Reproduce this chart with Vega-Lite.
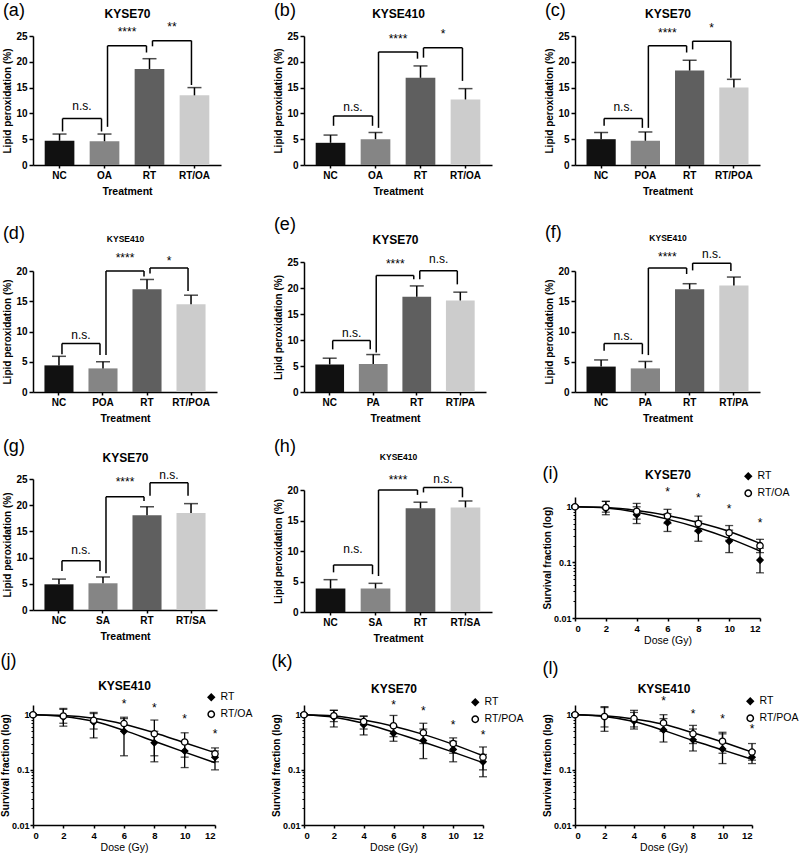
{
"$schema": "https://vega.github.io/schema/vega-lite/v6.json",
"background": "white",
"padding": {"left": 0, "top": 2, "right": 0, "bottom": 0},
"datasets": {
"bars": [
{"p":"a","cat":"NC","v":4.7,"hi":6.0},{"p":"a","cat":"OA","v":4.6,"hi":6.0},{"p":"a","cat":"RT","v":18.6,"hi":20.6},{"p":"a","cat":"RT/OA","v":13.5,"hi":15.0},
{"p":"b","cat":"NC","v":4.3,"hi":5.8},{"p":"b","cat":"OA","v":5.0,"hi":6.3},{"p":"b","cat":"RT","v":16.9,"hi":19.2},{"p":"b","cat":"RT/OA","v":12.7,"hi":14.8},
{"p":"c","cat":"NC","v":5.0,"hi":6.3},{"p":"c","cat":"POA","v":4.7,"hi":6.4},{"p":"c","cat":"RT","v":18.3,"hi":20.3},{"p":"c","cat":"RT/POA","v":15.0,"hi":16.6},
{"p":"d","cat":"NC","v":4.4,"hi":5.9},{"p":"d","cat":"POA","v":3.9,"hi":5.0},{"p":"d","cat":"RT","v":17.0,"hi":18.6},{"p":"d","cat":"RT/POA","v":14.5,"hi":16.0},
{"p":"e","cat":"NC","v":5.3,"hi":6.5},{"p":"e","cat":"PA","v":5.4,"hi":7.2},{"p":"e","cat":"RT","v":18.3,"hi":20.4},{"p":"e","cat":"RT/PA","v":17.6,"hi":19.2},
{"p":"f","cat":"NC","v":4.2,"hi":5.3},{"p":"f","cat":"PA","v":3.9,"hi":5.05},{"p":"f","cat":"RT","v":17.0,"hi":17.9},{"p":"f","cat":"RT/PA","v":17.6,"hi":19.0},
{"p":"g","cat":"NC","v":4.9,"hi":5.9},{"p":"g","cat":"SA","v":5.1,"hi":6.3},{"p":"g","cat":"RT","v":18.1,"hi":19.7},{"p":"g","cat":"RT/SA","v":18.5,"hi":20.3},
{"p":"h","cat":"NC","v":3.85,"hi":5.3},{"p":"h","cat":"SA","v":3.85,"hi":4.7},{"p":"h","cat":"RT","v":17.0,"hi":18.0},{"p":"h","cat":"RT/SA","v":17.15,"hi":18.2}
],
"br": [
{"p":"a","a":"NC","b":"OA","h":9.0,"la":6.5,"lb":6.5,"ty":11.4,"lab":"n.s."},{"p":"a","a":"OA","b":"RT","h":23.1,"la":7.4,"lb":21.8,"ty":25.7,"lab":"****"},{"p":"a","a":"RT","b":"RT/OA","h":24.1,"la":23.0,"lb":15.5,"ty":26.7,"lab":"**"},
{"p":"b","a":"NC","b":"OA","h":9.5,"la":7.6,"lb":7.6,"ty":11.3,"lab":"n.s."},{"p":"b","a":"OA","b":"RT","h":21.9,"la":7.2,"lb":20.6,"ty":24.4,"lab":"****"},{"p":"b","a":"RT","b":"RT/OA","h":22.7,"la":20.8,"lb":16.3,"ty":25.3,"lab":"*"},
{"p":"c","a":"NC","b":"POA","h":9.0,"la":7.6,"lb":7.2,"ty":11.3,"lab":"n.s."},{"p":"c","a":"POA","b":"RT","h":23.1,"la":7.2,"lb":21.8,"ty":25.6,"lab":"****"},{"p":"c","a":"RT","b":"RT/POA","h":24.0,"la":22.4,"lb":16.9,"ty":26.6,"lab":"*"},
{"p":"d","a":"NC","b":"POA","h":8.0,"la":6.25,"lb":6.1,"ty":9.5,"lab":"n.s."},{"p":"d","a":"POA","b":"RT","h":20.0,"la":6.1,"lb":19.1,"ty":22.1,"lab":"****"},{"p":"d","a":"RT","b":"RT/POA","h":20.5,"la":19.6,"lb":16.7,"ty":21.7,"lab":"*"},
{"p":"e","a":"NC","b":"PA","h":9.9,"la":8.2,"lb":8.2,"ty":11.4,"lab":"n.s."},{"p":"e","a":"PA","b":"RT","h":22.4,"la":7.6,"lb":21.7,"ty":24.6,"lab":"****"},{"p":"e","a":"RT","b":"RT/PA","h":23.3,"la":21.7,"lb":20.7,"ty":25.5,"lab":"n.s."},
{"p":"f","a":"NC","b":"PA","h":8.0,"la":6.8,"lb":6.25,"ty":9.3,"lab":"n.s."},{"p":"f","a":"PA","b":"RT","h":20.5,"la":6.1,"lb":19.5,"ty":22.3,"lab":"****"},{"p":"f","a":"RT","b":"RT/PA","h":21.3,"la":20.1,"lb":20.0,"ty":22.8,"lab":"n.s."},
{"p":"g","a":"NC","b":"SA","h":9.4,"la":7.45,"lb":7.45,"ty":11.4,"lab":"n.s."},{"p":"g","a":"SA","b":"RT","h":21.6,"la":7.0,"lb":20.8,"ty":24.5,"lab":"****"},{"p":"g","a":"RT","b":"RT/SA","h":24.3,"la":21.8,"lb":21.8,"ty":25.7,"lab":"n.s."},
{"p":"h","a":"NC","b":"SA","h":7.7,"la":6.5,"lb":6.2,"ty":10.3,"lab":"n.s."},{"p":"h","a":"SA","b":"RT","h":20.0,"la":5.9,"lb":19.2,"ty":21.6,"lab":"****"},{"p":"h","a":"RT","b":"RT/SA","h":20.4,"la":19.6,"lb":18.8,"ty":21.8,"lab":"n.s."}
],
"sv": [
{"p":"i","s":"RT","d":0,"m":1.0,"lo":0.96,"hi":1.04},{"p":"i","s":"RT","d":2,"m":0.93,"lo":0.72,"hi":1.25},{"p":"i","s":"RT","d":4,"m":0.72,"lo":0.5,"hi":1.0},{"p":"i","s":"RT","d":6,"m":0.52,"lo":0.36,"hi":0.75},{"p":"i","s":"RT","d":8,"m":0.37,"lo":0.24,"hi":0.55},{"p":"i","s":"RT","d":10,"m":0.24,"lo":0.15,"hi":0.38},{"p":"i","s":"RT","d":12,"m":0.11,"lo":0.065,"hi":0.18},
{"p":"i","s":"RT/OA","d":0,"m":1.0,"lo":0.96,"hi":1.04},{"p":"i","s":"RT/OA","d":2,"m":0.97,"lo":0.8,"hi":1.25},{"p":"i","s":"RT/OA","d":4,"m":0.83,"lo":0.6,"hi":1.15},{"p":"i","s":"RT/OA","d":6,"m":0.68,"lo":0.5,"hi":0.9},{"p":"i","s":"RT/OA","d":8,"m":0.5,"lo":0.36,"hi":0.68},{"p":"i","s":"RT/OA","d":10,"m":0.34,"lo":0.25,"hi":0.46},{"p":"i","s":"RT/OA","d":12,"m":0.2,"lo":0.15,"hi":0.26},
{"p":"j","s":"RT","d":0,"m":1.0,"lo":0.96,"hi":1.04},{"p":"j","s":"RT","d":2,"m":0.91,"lo":0.62,"hi":1.25},{"p":"j","s":"RT","d":4,"m":0.74,"lo":0.38,"hi":1.1},{"p":"j","s":"RT","d":6,"m":0.5,"lo":0.18,"hi":0.85},{"p":"j","s":"RT","d":8,"m":0.31,"lo":0.14,"hi":0.5},{"p":"j","s":"RT","d":10,"m":0.22,"lo":0.11,"hi":0.32},{"p":"j","s":"RT","d":12,"m":0.17,"lo":0.1,"hi":0.22},
{"p":"j","s":"RT/OA","d":0,"m":1.0,"lo":0.96,"hi":1.04},{"p":"j","s":"RT/OA","d":2,"m":0.95,"lo":0.7,"hi":1.3},{"p":"j","s":"RT/OA","d":4,"m":0.79,"lo":0.55,"hi":1.05},{"p":"j","s":"RT/OA","d":6,"m":0.69,"lo":0.5,"hi":0.9},{"p":"j","s":"RT/OA","d":8,"m":0.45,"lo":0.18,"hi":0.8},{"p":"j","s":"RT/OA","d":10,"m":0.32,"lo":0.17,"hi":0.47},{"p":"j","s":"RT/OA","d":12,"m":0.195,"lo":0.14,"hi":0.25},
{"p":"k","s":"RT","d":0,"m":1.0,"lo":0.96,"hi":1.04},{"p":"k","s":"RT","d":2,"m":0.91,"lo":0.6,"hi":1.2},{"p":"k","s":"RT","d":4,"m":0.66,"lo":0.43,"hi":0.93},{"p":"k","s":"RT","d":6,"m":0.46,"lo":0.33,"hi":0.62},{"p":"k","s":"RT","d":8,"m":0.34,"lo":0.16,"hi":0.55},{"p":"k","s":"RT","d":10,"m":0.235,"lo":0.14,"hi":0.33},{"p":"k","s":"RT","d":12,"m":0.14,"lo":0.075,"hi":0.19},
{"p":"k","s":"RT/POA","d":0,"m":1.0,"lo":0.96,"hi":1.04},{"p":"k","s":"RT/POA","d":2,"m":0.96,"lo":0.75,"hi":1.2},{"p":"k","s":"RT/POA","d":4,"m":0.75,"lo":0.55,"hi":0.95},{"p":"k","s":"RT/POA","d":6,"m":0.63,"lo":0.4,"hi":0.97},{"p":"k","s":"RT/POA","d":8,"m":0.47,"lo":0.3,"hi":0.7},{"p":"k","s":"RT/POA","d":10,"m":0.3,"lo":0.2,"hi":0.38},{"p":"k","s":"RT/POA","d":12,"m":0.17,"lo":0.1,"hi":0.26},
{"p":"l","s":"RT","d":0,"m":1.0,"lo":0.96,"hi":1.04},{"p":"l","s":"RT","d":2,"m":0.91,"lo":0.5,"hi":1.4},{"p":"l","s":"RT","d":4,"m":0.77,"lo":0.55,"hi":1.1},{"p":"l","s":"RT","d":6,"m":0.53,"lo":0.32,"hi":0.85},{"p":"l","s":"RT","d":8,"m":0.35,"lo":0.22,"hi":0.55},{"p":"l","s":"RT","d":10,"m":0.24,"lo":0.13,"hi":0.45},{"p":"l","s":"RT","d":12,"m":0.17,"lo":0.13,"hi":0.22},
{"p":"l","s":"RT/POA","d":0,"m":1.0,"lo":0.96,"hi":1.04},{"p":"l","s":"RT/POA","d":2,"m":0.93,"lo":0.6,"hi":1.35},{"p":"l","s":"RT/POA","d":4,"m":0.85,"lo":0.6,"hi":1.2},{"p":"l","s":"RT/POA","d":6,"m":0.71,"lo":0.5,"hi":1.0},{"p":"l","s":"RT/POA","d":8,"m":0.45,"lo":0.3,"hi":0.64},{"p":"l","s":"RT/POA","d":10,"m":0.33,"lo":0.2,"hi":0.48},{"p":"l","s":"RT/POA","d":12,"m":0.21,"lo":0.15,"hi":0.3}
],
"fit": [
{"p":"i","s":"RT","d":0,"f":1.0},{"p":"i","s":"RT","d":2,"f":0.95},{"p":"i","s":"RT","d":4,"f":0.8},{"p":"i","s":"RT","d":6,"f":0.6},{"p":"i","s":"RT","d":8,"f":0.42},{"p":"i","s":"RT","d":10,"f":0.27},{"p":"i","s":"RT","d":12,"f":0.16},
{"p":"i","s":"RT/OA","d":0,"f":1.0},{"p":"i","s":"RT/OA","d":2,"f":0.97},{"p":"i","s":"RT/OA","d":4,"f":0.86},{"p":"i","s":"RT/OA","d":6,"f":0.7},{"p":"i","s":"RT/OA","d":8,"f":0.52},{"p":"i","s":"RT/OA","d":10,"f":0.36},{"p":"i","s":"RT/OA","d":12,"f":0.22},
{"p":"j","s":"RT","d":0,"f":1.0},{"p":"j","s":"RT","d":2,"f":0.93},{"p":"j","s":"RT","d":4,"f":0.76},{"p":"j","s":"RT","d":6,"f":0.52},{"p":"j","s":"RT","d":8,"f":0.33},{"p":"j","s":"RT","d":10,"f":0.21},{"p":"j","s":"RT","d":12,"f":0.135},
{"p":"j","s":"RT/OA","d":0,"f":1.0},{"p":"j","s":"RT/OA","d":2,"f":0.97},{"p":"j","s":"RT/OA","d":4,"f":0.86},{"p":"j","s":"RT/OA","d":6,"f":0.67},{"p":"j","s":"RT/OA","d":8,"f":0.47},{"p":"j","s":"RT/OA","d":10,"f":0.31},{"p":"j","s":"RT/OA","d":12,"f":0.205},
{"p":"k","s":"RT","d":0,"f":1.0},{"p":"k","s":"RT","d":2,"f":0.9},{"p":"k","s":"RT","d":4,"f":0.7},{"p":"k","s":"RT","d":6,"f":0.48},{"p":"k","s":"RT","d":8,"f":0.32},{"p":"k","s":"RT","d":10,"f":0.21},{"p":"k","s":"RT","d":12,"f":0.135},
{"p":"k","s":"RT/POA","d":0,"f":1.0},{"p":"k","s":"RT/POA","d":2,"f":0.95},{"p":"k","s":"RT/POA","d":4,"f":0.8},{"p":"k","s":"RT/POA","d":6,"f":0.62},{"p":"k","s":"RT/POA","d":8,"f":0.44},{"p":"k","s":"RT/POA","d":10,"f":0.29},{"p":"k","s":"RT/POA","d":12,"f":0.18},
{"p":"l","s":"RT","d":0,"f":1.0},{"p":"l","s":"RT","d":2,"f":0.93},{"p":"l","s":"RT","d":4,"f":0.75},{"p":"l","s":"RT","d":6,"f":0.52},{"p":"l","s":"RT","d":8,"f":0.34},{"p":"l","s":"RT","d":10,"f":0.23},{"p":"l","s":"RT","d":12,"f":0.155},
{"p":"l","s":"RT/POA","d":0,"f":1.0},{"p":"l","s":"RT/POA","d":2,"f":0.96},{"p":"l","s":"RT/POA","d":4,"f":0.84},{"p":"l","s":"RT/POA","d":6,"f":0.67},{"p":"l","s":"RT/POA","d":8,"f":0.47},{"p":"l","s":"RT/POA","d":10,"f":0.32},{"p":"l","s":"RT/POA","d":12,"f":0.21}
],
"st": [
{"p":"i","d":6,"y":1.85},{"p":"i","d":8,"y":1.45},{"p":"i","d":10,"y":0.9},{"p":"i","d":12,"y":0.52},
{"p":"j","d":6,"y":1.58},{"p":"j","d":8,"y":1.34},{"p":"j","d":10,"y":0.82},{"p":"j","d":12,"y":0.45},
{"p":"k","d":6,"y":1.5},{"p":"k","d":8,"y":1.15},{"p":"k","d":10,"y":0.66},{"p":"k","d":12,"y":0.43},
{"p":"l","d":6,"y":1.75},{"p":"l","d":8,"y":1.04},{"p":"l","d":10,"y":0.82},{"p":"l","d":12,"y":0.54}
]
},
"config": {
"font": "Liberation Sans",
"view": {"stroke": null},
"axis": {"domainColor": "#000", "domainWidth": 1.5, "tickColor": "#000", "tickWidth": 1.5, "tickSize": 4, "labelColor": "#000", "titleColor": "#000", "labelFont": "Liberation Sans", "titleFont": "Liberation Sans", "labelFontWeight": "bold", "titleFontWeight": "bold", "labelFontSize": 10, "titleFontSize": 10.5, "grid": false, "labelPadding": 2, "titlePadding": 3},
"title": {"font": "Liberation Sans", "fontWeight": "normal", "fontSize": 18, "anchor": "start", "frame": "bounds", "color": "#000", "offset": 0},
"legend": {"labelFont": "Liberation Sans", "labelFontSize": 10.5, "labelColor": "#000"},
"text": {"font": "Liberation Sans", "color": "#000"}
},
"columns": 3,
"bounds": "flush",
"align": "each",
"spacing": {"row": 87, "column": 83},
"resolve": {"scale": {"x": "independent", "y": "independent", "color": "independent", "fill": "independent", "shape": "independent"}, "legend": {"fill": "independent", "shape": "independent"}},
"concat": [
{"title": {"text": "(a)", "dy": 17}, "width": 188, "height": 129, "resolve": {"axis": {"x": "independent", "y": "independent"}},
"layer": [
{"data": {"name": "bars"}, "transform": [{"filter": "datum.p=='a'"}], "mark": {"type": "bar"},
"encoding": {"x": {"field": "cat", "type": "nominal", "scale": {"domain": ["NC","OA","RT","RT/OA"], "paddingInner": 0.34, "paddingOuter": 0.26}, "axis": {"title": "Treatment", "labelAngle": 0, "tickSize": 3, "titlePadding": 6}},
"y": {"field": "v", "type": "quantitative", "scale": {"domain": [0,25], "nice": false}, "axis": {"values": [0,5,10,15,20,25], "title": "Lipid peroxidation (%)", "titleFontSize": 10}},
"color": {"field": "cat", "type": "nominal", "scale": {"domain": ["NC","OA","RT","RT/OA"], "range": ["#111111","#858585","#5f5f5f","#cccccc"]}, "legend": null}}},
{"data": {"name": "bars"}, "transform": [{"filter": "datum.p=='a'"}], "mark": {"type": "rule", "color": "#000", "strokeWidth": 1.5},
"encoding": {"x": {"field": "cat", "type": "nominal", "axis": {"orient": "top", "title": "KYSE70", "labels": false, "ticks": false, "domain": false, "titleFontSize": 12, "titlePadding": 16}}, "y": {"field": "v", "type": "quantitative", "axis": null}, "y2": {"field": "hi"}}},
{"data": {"name": "bars"}, "transform": [{"filter": "datum.p=='a'"}], "mark": {"type": "tick", "color": "#000", "thickness": 1.5, "size": 14},
"encoding": {"x": {"field": "cat", "type": "nominal", "axis": null}, "y": {"field": "hi", "type": "quantitative", "axis": null}}},
{"data": {"name": "br"}, "transform": [{"filter": "datum.p=='a'"}], "mark": {"type": "rule", "color": "#000", "strokeWidth": 1.5, "xOffset": 3, "x2Offset": -3},
"encoding": {"x": {"field": "a", "type": "nominal", "axis": null}, "x2": {"field": "b"}, "y": {"field": "h", "type": "quantitative", "axis": null}}},
{"data": {"name": "br"}, "transform": [{"filter": "datum.p=='a'"}], "mark": {"type": "rule", "color": "#000", "strokeWidth": 1.5, "xOffset": 3},
"encoding": {"x": {"field": "a", "type": "nominal", "axis": null}, "y": {"field": "la", "type": "quantitative", "axis": null}, "y2": {"field": "h"}}},
{"data": {"name": "br"}, "transform": [{"filter": "datum.p=='a'"}], "mark": {"type": "rule", "color": "#000", "strokeWidth": 1.5, "xOffset": -3},
"encoding": {"x": {"field": "b", "type": "nominal", "axis": null}, "y": {"field": "lb", "type": "quantitative", "axis": null}, "y2": {"field": "h"}}},
{"data": {"name": "br"}, "transform": [{"filter": "datum.p=='a'"}], "mark": {"type": "text", "dx": 22.5, "baseline": "middle", "fontSize": 12},
"encoding": {"x": {"field": "a", "type": "nominal", "axis": null}, "y": {"field": "ty", "type": "quantitative", "axis": null}, "text": {"field": "lab"}}}
]},
{"title": {"text": "(b)", "dy": 17}, "width": 188, "height": 129, "resolve": {"axis": {"x": "independent", "y": "independent"}},
"layer": [
{"data": {"name": "bars"}, "transform": [{"filter": "datum.p=='b'"}], "mark": {"type": "bar"},
"encoding": {"x": {"field": "cat", "type": "nominal", "scale": {"domain": ["NC","OA","RT","RT/OA"], "paddingInner": 0.34, "paddingOuter": 0.26}, "axis": {"title": "Treatment", "labelAngle": 0, "tickSize": 3, "titlePadding": 6}},
"y": {"field": "v", "type": "quantitative", "scale": {"domain": [0,25], "nice": false}, "axis": {"values": [0,5,10,15,20,25], "title": "Lipid peroxidation (%)", "titleFontSize": 10}},
"color": {"field": "cat", "type": "nominal", "scale": {"domain": ["NC","OA","RT","RT/OA"], "range": ["#111111","#858585","#5f5f5f","#cccccc"]}, "legend": null}}},
{"data": {"name": "bars"}, "transform": [{"filter": "datum.p=='b'"}], "mark": {"type": "rule", "color": "#000", "strokeWidth": 1.5},
"encoding": {"x": {"field": "cat", "type": "nominal", "axis": {"orient": "top", "title": "KYSE410", "labels": false, "ticks": false, "domain": false, "titleFontSize": 12, "titlePadding": 16}}, "y": {"field": "v", "type": "quantitative", "axis": null}, "y2": {"field": "hi"}}},
{"data": {"name": "bars"}, "transform": [{"filter": "datum.p=='b'"}], "mark": {"type": "tick", "color": "#000", "thickness": 1.5, "size": 14},
"encoding": {"x": {"field": "cat", "type": "nominal", "axis": null}, "y": {"field": "hi", "type": "quantitative", "axis": null}}},
{"data": {"name": "br"}, "transform": [{"filter": "datum.p=='b'"}], "mark": {"type": "rule", "color": "#000", "strokeWidth": 1.5, "xOffset": 3, "x2Offset": -3},
"encoding": {"x": {"field": "a", "type": "nominal", "axis": null}, "x2": {"field": "b"}, "y": {"field": "h", "type": "quantitative", "axis": null}}},
{"data": {"name": "br"}, "transform": [{"filter": "datum.p=='b'"}], "mark": {"type": "rule", "color": "#000", "strokeWidth": 1.5, "xOffset": 3},
"encoding": {"x": {"field": "a", "type": "nominal", "axis": null}, "y": {"field": "la", "type": "quantitative", "axis": null}, "y2": {"field": "h"}}},
{"data": {"name": "br"}, "transform": [{"filter": "datum.p=='b'"}], "mark": {"type": "rule", "color": "#000", "strokeWidth": 1.5, "xOffset": -3},
"encoding": {"x": {"field": "b", "type": "nominal", "axis": null}, "y": {"field": "lb", "type": "quantitative", "axis": null}, "y2": {"field": "h"}}},
{"data": {"name": "br"}, "transform": [{"filter": "datum.p=='b'"}], "mark": {"type": "text", "dx": 22.5, "baseline": "middle", "fontSize": 12},
"encoding": {"x": {"field": "a", "type": "nominal", "axis": null}, "y": {"field": "ty", "type": "quantitative", "axis": null}, "text": {"field": "lab"}}}
]},
{"title": {"text": "(c)", "dy": 17}, "width": 185, "height": 129, "resolve": {"axis": {"x": "independent", "y": "independent"}},
"layer": [
{"data": {"name": "bars"}, "transform": [{"filter": "datum.p=='c'"}], "mark": {"type": "bar"},
"encoding": {"x": {"field": "cat", "type": "nominal", "scale": {"domain": ["NC","POA","RT","RT/POA"], "paddingInner": 0.34, "paddingOuter": 0.26}, "axis": {"title": "Treatment", "labelAngle": 0, "tickSize": 3, "titlePadding": 6}},
"y": {"field": "v", "type": "quantitative", "scale": {"domain": [0,25], "nice": false}, "axis": {"values": [0,5,10,15,20,25], "title": "Lipid peroxidation (%)", "titleFontSize": 10}},
"color": {"field": "cat", "type": "nominal", "scale": {"domain": ["NC","POA","RT","RT/POA"], "range": ["#111111","#858585","#5f5f5f","#cccccc"]}, "legend": null}}},
{"data": {"name": "bars"}, "transform": [{"filter": "datum.p=='c'"}], "mark": {"type": "rule", "color": "#000", "strokeWidth": 1.5},
"encoding": {"x": {"field": "cat", "type": "nominal", "axis": {"orient": "top", "title": "KYSE70", "labels": false, "ticks": false, "domain": false, "titleFontSize": 12, "titlePadding": 16}}, "y": {"field": "v", "type": "quantitative", "axis": null}, "y2": {"field": "hi"}}},
{"data": {"name": "bars"}, "transform": [{"filter": "datum.p=='c'"}], "mark": {"type": "tick", "color": "#000", "thickness": 1.5, "size": 14},
"encoding": {"x": {"field": "cat", "type": "nominal", "axis": null}, "y": {"field": "hi", "type": "quantitative", "axis": null}}},
{"data": {"name": "br"}, "transform": [{"filter": "datum.p=='c'"}], "mark": {"type": "rule", "color": "#000", "strokeWidth": 1.5, "xOffset": 3, "x2Offset": -3},
"encoding": {"x": {"field": "a", "type": "nominal", "axis": null}, "x2": {"field": "b"}, "y": {"field": "h", "type": "quantitative", "axis": null}}},
{"data": {"name": "br"}, "transform": [{"filter": "datum.p=='c'"}], "mark": {"type": "rule", "color": "#000", "strokeWidth": 1.5, "xOffset": 3},
"encoding": {"x": {"field": "a", "type": "nominal", "axis": null}, "y": {"field": "la", "type": "quantitative", "axis": null}, "y2": {"field": "h"}}},
{"data": {"name": "br"}, "transform": [{"filter": "datum.p=='c'"}], "mark": {"type": "rule", "color": "#000", "strokeWidth": 1.5, "xOffset": -3},
"encoding": {"x": {"field": "b", "type": "nominal", "axis": null}, "y": {"field": "lb", "type": "quantitative", "axis": null}, "y2": {"field": "h"}}},
{"data": {"name": "br"}, "transform": [{"filter": "datum.p=='c'"}], "mark": {"type": "text", "dx": 22, "baseline": "middle", "fontSize": 12},
"encoding": {"x": {"field": "a", "type": "nominal", "axis": null}, "y": {"field": "ty", "type": "quantitative", "axis": null}, "text": {"field": "lab"}}}
]},
{"title": {"text": "(d)", "dy": 12.5}, "width": 184, "height": 140, "resolve": {"axis": {"x": "independent", "y": "independent"}},
"layer": [
{"data": {"name": "bars"}, "transform": [{"filter": "datum.p=='d'"}], "mark": {"type": "bar"},
"encoding": {"x": {"field": "cat", "type": "nominal", "scale": {"domain": ["NC","POA","RT","RT/POA"], "paddingInner": 0.34, "paddingOuter": 0.26}, "axis": {"title": "Treatment", "labelAngle": 0, "tickSize": 3, "titlePadding": 6}},
"y": {"field": "v", "type": "quantitative", "scale": {"domain": [0,20], "nice": false, "range": [140, 19]}, "axis": {"values": [0,5,10,15,20], "title": "Lipid peroxidation (%)", "titleFontSize": 10}},
"color": {"field": "cat", "type": "nominal", "scale": {"domain": ["NC","POA","RT","RT/POA"], "range": ["#111111","#858585","#5f5f5f","#cccccc"]}, "legend": null}}},
{"data": {"name": "bars"}, "transform": [{"filter": "datum.p=='d'"}], "mark": {"type": "rule", "color": "#000", "strokeWidth": 1.5},
"encoding": {"x": {"field": "cat", "type": "nominal", "axis": {"orient": "top", "title": "KYSE410", "labels": false, "ticks": false, "domain": false, "titleFontSize": 8.5, "titlePadding": 9}}, "y": {"field": "v", "type": "quantitative", "axis": null}, "y2": {"field": "hi"}}},
{"data": {"name": "bars"}, "transform": [{"filter": "datum.p=='d'"}], "mark": {"type": "tick", "color": "#000", "thickness": 1.5, "size": 14},
"encoding": {"x": {"field": "cat", "type": "nominal", "axis": null}, "y": {"field": "hi", "type": "quantitative", "axis": null}}},
{"data": {"name": "br"}, "transform": [{"filter": "datum.p=='d'"}], "mark": {"type": "rule", "color": "#000", "strokeWidth": 1.5, "xOffset": 3, "x2Offset": -3},
"encoding": {"x": {"field": "a", "type": "nominal", "axis": null}, "x2": {"field": "b"}, "y": {"field": "h", "type": "quantitative", "axis": null}}},
{"data": {"name": "br"}, "transform": [{"filter": "datum.p=='d'"}], "mark": {"type": "rule", "color": "#000", "strokeWidth": 1.5, "xOffset": 3},
"encoding": {"x": {"field": "a", "type": "nominal", "axis": null}, "y": {"field": "la", "type": "quantitative", "axis": null}, "y2": {"field": "h"}}},
{"data": {"name": "br"}, "transform": [{"filter": "datum.p=='d'"}], "mark": {"type": "rule", "color": "#000", "strokeWidth": 1.5, "xOffset": -3},
"encoding": {"x": {"field": "b", "type": "nominal", "axis": null}, "y": {"field": "lb", "type": "quantitative", "axis": null}, "y2": {"field": "h"}}},
{"data": {"name": "br"}, "transform": [{"filter": "datum.p=='d'"}], "mark": {"type": "text", "dx": 22, "baseline": "middle", "fontSize": 12},
"encoding": {"x": {"field": "a", "type": "nominal", "axis": null}, "y": {"field": "ty", "type": "quantitative", "axis": null}, "text": {"field": "lab"}}}
]},
{"title": {"text": "(e)", "dy": 5}, "width": 182, "height": 140, "resolve": {"axis": {"x": "independent", "y": "independent"}},
"layer": [
{"data": {"name": "bars"}, "transform": [{"filter": "datum.p=='e'"}], "mark": {"type": "bar"},
"encoding": {"x": {"field": "cat", "type": "nominal", "scale": {"domain": ["NC","PA","RT","RT/PA"], "paddingInner": 0.34, "paddingOuter": 0.26}, "axis": {"title": "Treatment", "labelAngle": 0, "tickSize": 3, "titlePadding": 6}},
"y": {"field": "v", "type": "quantitative", "scale": {"domain": [0,25], "nice": false, "range": [140, 10]}, "axis": {"values": [0,5,10,15,20,25], "title": "Lipid peroxidation (%)", "titleFontSize": 10}},
"color": {"field": "cat", "type": "nominal", "scale": {"domain": ["NC","PA","RT","RT/PA"], "range": ["#111111","#858585","#5f5f5f","#cccccc"]}, "legend": null}}},
{"data": {"name": "bars"}, "transform": [{"filter": "datum.p=='e'"}], "mark": {"type": "rule", "color": "#000", "strokeWidth": 1.5},
"encoding": {"x": {"field": "cat", "type": "nominal", "axis": {"orient": "top", "title": "KYSE70", "labels": false, "ticks": false, "domain": false, "titleFontSize": 12, "titlePadding": 6}}, "y": {"field": "v", "type": "quantitative", "axis": null}, "y2": {"field": "hi"}}},
{"data": {"name": "bars"}, "transform": [{"filter": "datum.p=='e'"}], "mark": {"type": "tick", "color": "#000", "thickness": 1.5, "size": 14},
"encoding": {"x": {"field": "cat", "type": "nominal", "axis": null}, "y": {"field": "hi", "type": "quantitative", "axis": null}}},
{"data": {"name": "br"}, "transform": [{"filter": "datum.p=='e'"}], "mark": {"type": "rule", "color": "#000", "strokeWidth": 1.5, "xOffset": 3, "x2Offset": -3},
"encoding": {"x": {"field": "a", "type": "nominal", "axis": null}, "x2": {"field": "b"}, "y": {"field": "h", "type": "quantitative", "axis": null}}},
{"data": {"name": "br"}, "transform": [{"filter": "datum.p=='e'"}], "mark": {"type": "rule", "color": "#000", "strokeWidth": 1.5, "xOffset": 3},
"encoding": {"x": {"field": "a", "type": "nominal", "axis": null}, "y": {"field": "la", "type": "quantitative", "axis": null}, "y2": {"field": "h"}}},
{"data": {"name": "br"}, "transform": [{"filter": "datum.p=='e'"}], "mark": {"type": "rule", "color": "#000", "strokeWidth": 1.5, "xOffset": -3},
"encoding": {"x": {"field": "b", "type": "nominal", "axis": null}, "y": {"field": "lb", "type": "quantitative", "axis": null}, "y2": {"field": "h"}}},
{"data": {"name": "br"}, "transform": [{"filter": "datum.p=='e'"}], "mark": {"type": "text", "dx": 22, "baseline": "middle", "fontSize": 12},
"encoding": {"x": {"field": "a", "type": "nominal", "axis": null}, "y": {"field": "ty", "type": "quantitative", "axis": null}, "text": {"field": "lab"}}}
]},
{"title": {"text": "(f)", "dy": 12.5}, "width": 185, "height": 140, "resolve": {"axis": {"x": "independent", "y": "independent"}},
"layer": [
{"data": {"name": "bars"}, "transform": [{"filter": "datum.p=='f'"}], "mark": {"type": "bar"},
"encoding": {"x": {"field": "cat", "type": "nominal", "scale": {"domain": ["NC","PA","RT","RT/PA"], "paddingInner": 0.34, "paddingOuter": 0.26}, "axis": {"title": "Treatment", "labelAngle": 0, "tickSize": 3, "titlePadding": 6}},
"y": {"field": "v", "type": "quantitative", "scale": {"domain": [0,20], "nice": false, "range": [140, 19]}, "axis": {"values": [0,5,10,15,20], "title": "Lipid peroxidation (%)", "titleFontSize": 10}},
"color": {"field": "cat", "type": "nominal", "scale": {"domain": ["NC","PA","RT","RT/PA"], "range": ["#111111","#858585","#5f5f5f","#cccccc"]}, "legend": null}}},
{"data": {"name": "bars"}, "transform": [{"filter": "datum.p=='f'"}], "mark": {"type": "rule", "color": "#000", "strokeWidth": 1.5},
"encoding": {"x": {"field": "cat", "type": "nominal", "axis": {"orient": "top", "title": "KYSE410", "labels": false, "ticks": false, "domain": false, "titleFontSize": 8.5, "titlePadding": 10}}, "y": {"field": "v", "type": "quantitative", "axis": null}, "y2": {"field": "hi"}}},
{"data": {"name": "bars"}, "transform": [{"filter": "datum.p=='f'"}], "mark": {"type": "tick", "color": "#000", "thickness": 1.5, "size": 14},
"encoding": {"x": {"field": "cat", "type": "nominal", "axis": null}, "y": {"field": "hi", "type": "quantitative", "axis": null}}},
{"data": {"name": "br"}, "transform": [{"filter": "datum.p=='f'"}], "mark": {"type": "rule", "color": "#000", "strokeWidth": 1.5, "xOffset": 3, "x2Offset": -3},
"encoding": {"x": {"field": "a", "type": "nominal", "axis": null}, "x2": {"field": "b"}, "y": {"field": "h", "type": "quantitative", "axis": null}}},
{"data": {"name": "br"}, "transform": [{"filter": "datum.p=='f'"}], "mark": {"type": "rule", "color": "#000", "strokeWidth": 1.5, "xOffset": 3},
"encoding": {"x": {"field": "a", "type": "nominal", "axis": null}, "y": {"field": "la", "type": "quantitative", "axis": null}, "y2": {"field": "h"}}},
{"data": {"name": "br"}, "transform": [{"filter": "datum.p=='f'"}], "mark": {"type": "rule", "color": "#000", "strokeWidth": 1.5, "xOffset": -3},
"encoding": {"x": {"field": "b", "type": "nominal", "axis": null}, "y": {"field": "lb", "type": "quantitative", "axis": null}, "y2": {"field": "h"}}},
{"data": {"name": "br"}, "transform": [{"filter": "datum.p=='f'"}], "mark": {"type": "text", "dx": 22, "baseline": "middle", "fontSize": 12},
"encoding": {"x": {"field": "a", "type": "nominal", "axis": null}, "y": {"field": "ty", "type": "quantitative", "axis": null}, "text": {"field": "lab"}}}
]},
{"title": {"text": "(g)", "dy": 9}, "width": 184, "height": 131, "resolve": {"axis": {"x": "independent", "y": "independent"}},
"layer": [
{"data": {"name": "bars"}, "transform": [{"filter": "datum.p=='g'"}], "mark": {"type": "bar"},
"encoding": {"x": {"field": "cat", "type": "nominal", "scale": {"domain": ["NC","SA","RT","RT/SA"], "paddingInner": 0.34, "paddingOuter": 0.26}, "axis": {"title": "Treatment", "labelAngle": 0, "tickSize": 3, "titlePadding": 6}},
"y": {"field": "v", "type": "quantitative", "scale": {"domain": [0,25], "nice": false}, "axis": {"values": [0,5,10,15,20,25], "title": "Lipid peroxidation (%)", "titleFontSize": 10}},
"color": {"field": "cat", "type": "nominal", "scale": {"domain": ["NC","SA","RT","RT/SA"], "range": ["#111111","#858585","#5f5f5f","#cccccc"]}, "legend": null}}},
{"data": {"name": "bars"}, "transform": [{"filter": "datum.p=='g'"}], "mark": {"type": "rule", "color": "#000", "strokeWidth": 1.5},
"encoding": {"x": {"field": "cat", "type": "nominal", "axis": {"orient": "top", "title": "KYSE70", "labels": false, "ticks": false, "domain": false, "titleFontSize": 12, "titlePadding": 15}}, "y": {"field": "v", "type": "quantitative", "axis": null}, "y2": {"field": "hi"}}},
{"data": {"name": "bars"}, "transform": [{"filter": "datum.p=='g'"}], "mark": {"type": "tick", "color": "#000", "thickness": 1.5, "size": 14},
"encoding": {"x": {"field": "cat", "type": "nominal", "axis": null}, "y": {"field": "hi", "type": "quantitative", "axis": null}}},
{"data": {"name": "br"}, "transform": [{"filter": "datum.p=='g'"}], "mark": {"type": "rule", "color": "#000", "strokeWidth": 1.5, "xOffset": 3, "x2Offset": -3},
"encoding": {"x": {"field": "a", "type": "nominal", "axis": null}, "x2": {"field": "b"}, "y": {"field": "h", "type": "quantitative", "axis": null}}},
{"data": {"name": "br"}, "transform": [{"filter": "datum.p=='g'"}], "mark": {"type": "rule", "color": "#000", "strokeWidth": 1.5, "xOffset": 3},
"encoding": {"x": {"field": "a", "type": "nominal", "axis": null}, "y": {"field": "la", "type": "quantitative", "axis": null}, "y2": {"field": "h"}}},
{"data": {"name": "br"}, "transform": [{"filter": "datum.p=='g'"}], "mark": {"type": "rule", "color": "#000", "strokeWidth": 1.5, "xOffset": -3},
"encoding": {"x": {"field": "b", "type": "nominal", "axis": null}, "y": {"field": "lb", "type": "quantitative", "axis": null}, "y2": {"field": "h"}}},
{"data": {"name": "br"}, "transform": [{"filter": "datum.p=='g'"}], "mark": {"type": "text", "dx": 22, "baseline": "middle", "fontSize": 12},
"encoding": {"x": {"field": "a", "type": "nominal", "axis": null}, "y": {"field": "ty", "type": "quantitative", "axis": null}, "text": {"field": "lab"}}}
]},
{"title": {"text": "(h)", "dy": 8}, "width": 188, "height": 133, "resolve": {"axis": {"x": "independent", "y": "independent"}},
"layer": [
{"data": {"name": "bars"}, "transform": [{"filter": "datum.p=='h'"}], "mark": {"type": "bar"},
"encoding": {"x": {"field": "cat", "type": "nominal", "scale": {"domain": ["NC","SA","RT","RT/SA"], "paddingInner": 0.34, "paddingOuter": 0.26}, "axis": {"title": "Treatment", "labelAngle": 0, "tickSize": 3, "titlePadding": 6}},
"y": {"field": "v", "type": "quantitative", "scale": {"domain": [0,20], "nice": false, "range": [133, 11]}, "axis": {"values": [0,5,10,15,20], "title": "Lipid peroxidation (%)", "titleFontSize": 10}},
"color": {"field": "cat", "type": "nominal", "scale": {"domain": ["NC","SA","RT","RT/SA"], "range": ["#111111","#858585","#5f5f5f","#cccccc"]}, "legend": null}}},
{"data": {"name": "bars"}, "transform": [{"filter": "datum.p=='h'"}], "mark": {"type": "rule", "color": "#000", "strokeWidth": 1.5},
"encoding": {"x": {"field": "cat", "type": "nominal", "axis": {"orient": "top", "title": "KYSE410", "labels": false, "ticks": false, "domain": false, "titleFontSize": 8.5, "titlePadding": 18}}, "y": {"field": "v", "type": "quantitative", "axis": null}, "y2": {"field": "hi"}}},
{"data": {"name": "bars"}, "transform": [{"filter": "datum.p=='h'"}], "mark": {"type": "tick", "color": "#000", "thickness": 1.5, "size": 14},
"encoding": {"x": {"field": "cat", "type": "nominal", "axis": null}, "y": {"field": "hi", "type": "quantitative", "axis": null}}},
{"data": {"name": "br"}, "transform": [{"filter": "datum.p=='h'"}], "mark": {"type": "rule", "color": "#000", "strokeWidth": 1.5, "xOffset": 3, "x2Offset": -3},
"encoding": {"x": {"field": "a", "type": "nominal", "axis": null}, "x2": {"field": "b"}, "y": {"field": "h", "type": "quantitative", "axis": null}}},
{"data": {"name": "br"}, "transform": [{"filter": "datum.p=='h'"}], "mark": {"type": "rule", "color": "#000", "strokeWidth": 1.5, "xOffset": 3},
"encoding": {"x": {"field": "a", "type": "nominal", "axis": null}, "y": {"field": "la", "type": "quantitative", "axis": null}, "y2": {"field": "h"}}},
{"data": {"name": "br"}, "transform": [{"filter": "datum.p=='h'"}], "mark": {"type": "rule", "color": "#000", "strokeWidth": 1.5, "xOffset": -3},
"encoding": {"x": {"field": "b", "type": "nominal", "axis": null}, "y": {"field": "lb", "type": "quantitative", "axis": null}, "y2": {"field": "h"}}},
{"data": {"name": "br"}, "transform": [{"filter": "datum.p=='h'"}], "mark": {"type": "text", "dx": 22.5, "baseline": "middle", "fontSize": 12},
"encoding": {"x": {"field": "a", "type": "nominal", "axis": null}, "y": {"field": "ty", "type": "quantitative", "axis": null}, "text": {"field": "lab"}}}
]},
{"title": {"text": "(i)", "dy": 19}, "width": 185, "height": 139, "resolve": {"axis": {"x": "independent", "y": "independent"}},
"layer": [
{"data": {"name": "fit"}, "transform": [{"filter": "datum.p=='i'"}], "mark": {"type": "line", "color": "#000", "strokeWidth": 1.5, "interpolate": "monotone"},
"encoding": {"x": {"field": "d", "type": "quantitative", "scale": {"domain": [0,12], "nice": false}, "axis": {"values": [0,2,4,6,8,10,12], "title": "Dose (Gy)", "titleFontWeight": "normal", "titleFontSize": 10.5, "labelFontSize": 9.5, "tickSize": 3}},
"y": {"field": "f", "type": "quantitative", "scale": {"type": "log", "domain": [0.01,1.5], "nice": false, "range": [139, 18]}, "axis": {"values": [0.01,0.1,1], "format": "~g", "title": "Survival fraction (log)", "titleFontSize": 10, "labelFontSize": 9, "tickSize": 3, "labelPadding": 1, "titlePadding": 1}},
"detail": {"field": "s"}}},
{"data": {"name": "sv"}, "transform": [{"filter": "datum.p=='i'"}], "mark": {"type": "rule", "color": "#000", "strokeWidth": 1.3},
"encoding": {"x": {"field": "d", "type": "quantitative", "axis": {"orient": "top", "title": "KYSE70", "labels": false, "ticks": false, "domain": false, "titleFontSize": 12, "titlePadding": -2}}, "y": {"field": "lo", "type": "quantitative", "axis": null}, "y2": {"field": "hi"}}},
{"data": {"name": "sv"}, "transform": [{"filter": "datum.p=='i'"}], "mark": {"type": "tick", "orient": "horizontal", "color": "#000", "thickness": 1.3, "size": 8},
"encoding": {"x": {"field": "d", "type": "quantitative", "axis": null}, "y": {"field": "lo", "type": "quantitative", "axis": null}}},
{"data": {"name": "sv"}, "transform": [{"filter": "datum.p=='i'"}], "mark": {"type": "tick", "orient": "horizontal", "color": "#000", "thickness": 1.3, "size": 8},
"encoding": {"x": {"field": "d", "type": "quantitative", "axis": null}, "y": {"field": "hi", "type": "quantitative", "axis": null}}},
{"data": {"name": "sv"}, "transform": [{"filter": "datum.p=='i'"}], "mark": {"type": "point", "filled": true, "stroke": "#000", "strokeWidth": 1.3, "size": 40, "opacity": 1},
"encoding": {"x": {"field": "d", "type": "quantitative", "axis": null}, "y": {"field": "m", "type": "quantitative", "axis": null},
"shape": {"field": "s", "type": "nominal", "scale": {"domain": ["RT","RT/OA"], "range": ["diamond","circle"]}, "legend": {"title": null, "orient": "none", "legendX": 168, "legendY": -8, "symbolSize": 40, "rowPadding": 4, "labelOffset": 4, "encode": {"symbols": {"update": {"stroke": {"value": "#000"}, "strokeWidth": {"value": 1.3}}}}}},
"fill": {"field": "s", "type": "nominal", "scale": {"domain": ["RT","RT/OA"], "range": ["#000000","#ffffff"]}, "legend": {"title": null, "orient": "none", "legendX": 168, "legendY": -8, "symbolSize": 40, "rowPadding": 4, "labelOffset": 4, "encode": {"symbols": {"update": {"stroke": {"value": "#000"}, "strokeWidth": {"value": 1.3}}}}}}}},
{"data": {"name": "st"}, "transform": [{"filter": "datum.p=='i'"}], "mark": {"type": "text", "text": "*", "fontSize": 12, "baseline": "middle"},
"encoding": {"x": {"field": "d", "type": "quantitative", "axis": null}, "y": {"field": "y", "type": "quantitative", "axis": {"orient": "left", "values": [0.02,0.03,0.04,0.05,0.06,0.07,0.08,0.09,0.2,0.3,0.4,0.5,0.6,0.7,0.8,0.9], "labels": false, "title": null, "domain": false, "tickSize": 2, "tickWidth": 1}}}}
]},
{"title": {"text": "(j)", "dy": -5}, "width": 182, "height": 120, "resolve": {"axis": {"x": "independent", "y": "independent"}},
"layer": [
{"data": {"name": "fit"}, "transform": [{"filter": "datum.p=='j'"}], "mark": {"type": "line", "color": "#000", "strokeWidth": 1.5, "interpolate": "monotone"},
"encoding": {"x": {"field": "d", "type": "quantitative", "scale": {"domain": [0,12], "nice": false}, "axis": {"values": [0,2,4,6,8,10,12], "title": "Dose (Gy)", "titleFontWeight": "normal", "titleFontSize": 10.5, "labelFontSize": 9.5, "tickSize": 3}},
"y": {"field": "f", "type": "quantitative", "scale": {"type": "log", "domain": [0.01,1.5], "nice": false}, "axis": {"values": [0.01,0.1,1], "format": "~g", "title": "Survival fraction (log)", "titleFontSize": 10, "labelFontSize": 9, "tickSize": 3, "labelPadding": 1, "titlePadding": 1}},
"detail": {"field": "s"}}},
{"data": {"name": "sv"}, "transform": [{"filter": "datum.p=='j'"}], "mark": {"type": "rule", "color": "#000", "strokeWidth": 1.3},
"encoding": {"x": {"field": "d", "type": "quantitative", "axis": {"orient": "top", "title": "KYSE410", "labels": false, "ticks": false, "domain": false, "titleFontSize": 12, "titlePadding": 13}}, "y": {"field": "lo", "type": "quantitative", "axis": null}, "y2": {"field": "hi"}}},
{"data": {"name": "sv"}, "transform": [{"filter": "datum.p=='j'"}], "mark": {"type": "tick", "orient": "horizontal", "color": "#000", "thickness": 1.3, "size": 8},
"encoding": {"x": {"field": "d", "type": "quantitative", "axis": null}, "y": {"field": "lo", "type": "quantitative", "axis": null}}},
{"data": {"name": "sv"}, "transform": [{"filter": "datum.p=='j'"}], "mark": {"type": "tick", "orient": "horizontal", "color": "#000", "thickness": 1.3, "size": 8},
"encoding": {"x": {"field": "d", "type": "quantitative", "axis": null}, "y": {"field": "hi", "type": "quantitative", "axis": null}}},
{"data": {"name": "sv"}, "transform": [{"filter": "datum.p=='j'"}], "mark": {"type": "point", "filled": true, "stroke": "#000", "strokeWidth": 1.3, "size": 40, "opacity": 1},
"encoding": {"x": {"field": "d", "type": "quantitative", "axis": null}, "y": {"field": "m", "type": "quantitative", "axis": null},
"shape": {"field": "s", "type": "nominal", "scale": {"domain": ["RT","RT/OA"], "range": ["diamond","circle"]}, "legend": {"title": null, "orient": "none", "legendX": 173, "legendY": -13, "symbolSize": 40, "rowPadding": 4, "labelOffset": 4, "encode": {"symbols": {"update": {"stroke": {"value": "#000"}, "strokeWidth": {"value": 1.3}}}}}},
"fill": {"field": "s", "type": "nominal", "scale": {"domain": ["RT","RT/OA"], "range": ["#000000","#ffffff"]}, "legend": {"title": null, "orient": "none", "legendX": 173, "legendY": -13, "symbolSize": 40, "rowPadding": 4, "labelOffset": 4, "encode": {"symbols": {"update": {"stroke": {"value": "#000"}, "strokeWidth": {"value": 1.3}}}}}}}},
{"data": {"name": "st"}, "transform": [{"filter": "datum.p=='j'"}], "mark": {"type": "text", "text": "*", "fontSize": 12, "baseline": "middle"},
"encoding": {"x": {"field": "d", "type": "quantitative", "axis": null}, "y": {"field": "y", "type": "quantitative", "axis": {"orient": "left", "values": [0.02,0.03,0.04,0.05,0.06,0.07,0.08,0.09,0.2,0.3,0.4,0.5,0.6,0.7,0.8,0.9], "labels": false, "title": null, "domain": false, "tickSize": 2, "tickWidth": 1}}}}
]},
{"title": {"text": "(k)", "dy": -7}, "width": 179, "height": 120, "resolve": {"axis": {"x": "independent", "y": "independent"}},
"layer": [
{"data": {"name": "fit"}, "transform": [{"filter": "datum.p=='k'"}], "mark": {"type": "line", "color": "#000", "strokeWidth": 1.5, "interpolate": "monotone"},
"encoding": {"x": {"field": "d", "type": "quantitative", "scale": {"domain": [0,12], "nice": false}, "axis": {"values": [0,2,4,6,8,10,12], "title": "Dose (Gy)", "titleFontWeight": "normal", "titleFontSize": 10.5, "labelFontSize": 9.5, "tickSize": 3}},
"y": {"field": "f", "type": "quantitative", "scale": {"type": "log", "domain": [0.01,1.5], "nice": false}, "axis": {"values": [0.01,0.1,1], "format": "~g", "title": "Survival fraction (log)", "titleFontSize": 10, "labelFontSize": 9, "tickSize": 3, "labelPadding": 1, "titlePadding": 1}},
"detail": {"field": "s"}}},
{"data": {"name": "sv"}, "transform": [{"filter": "datum.p=='k'"}], "mark": {"type": "rule", "color": "#000", "strokeWidth": 1.3},
"encoding": {"x": {"field": "d", "type": "quantitative", "axis": {"orient": "top", "title": "KYSE70", "labels": false, "ticks": false, "domain": false, "titleFontSize": 12, "titlePadding": 10}}, "y": {"field": "lo", "type": "quantitative", "axis": null}, "y2": {"field": "hi"}}},
{"data": {"name": "sv"}, "transform": [{"filter": "datum.p=='k'"}], "mark": {"type": "tick", "orient": "horizontal", "color": "#000", "thickness": 1.3, "size": 8},
"encoding": {"x": {"field": "d", "type": "quantitative", "axis": null}, "y": {"field": "lo", "type": "quantitative", "axis": null}}},
{"data": {"name": "sv"}, "transform": [{"filter": "datum.p=='k'"}], "mark": {"type": "tick", "orient": "horizontal", "color": "#000", "thickness": 1.3, "size": 8},
"encoding": {"x": {"field": "d", "type": "quantitative", "axis": null}, "y": {"field": "hi", "type": "quantitative", "axis": null}}},
{"data": {"name": "sv"}, "transform": [{"filter": "datum.p=='k'"}], "mark": {"type": "point", "filled": true, "stroke": "#000", "strokeWidth": 1.3, "size": 40, "opacity": 1},
"encoding": {"x": {"field": "d", "type": "quantitative", "axis": null}, "y": {"field": "m", "type": "quantitative", "axis": null},
"shape": {"field": "s", "type": "nominal", "scale": {"domain": ["RT","RT/POA"], "range": ["diamond","circle"]}, "legend": {"title": null, "orient": "none", "legendX": 166, "legendY": -8, "symbolSize": 40, "rowPadding": 4, "labelOffset": 4, "encode": {"symbols": {"update": {"stroke": {"value": "#000"}, "strokeWidth": {"value": 1.3}}}}}},
"fill": {"field": "s", "type": "nominal", "scale": {"domain": ["RT","RT/POA"], "range": ["#000000","#ffffff"]}, "legend": {"title": null, "orient": "none", "legendX": 166, "legendY": -8, "symbolSize": 40, "rowPadding": 4, "labelOffset": 4, "encode": {"symbols": {"update": {"stroke": {"value": "#000"}, "strokeWidth": {"value": 1.3}}}}}}}},
{"data": {"name": "st"}, "transform": [{"filter": "datum.p=='k'"}], "mark": {"type": "text", "text": "*", "fontSize": 12, "baseline": "middle"},
"encoding": {"x": {"field": "d", "type": "quantitative", "axis": null}, "y": {"field": "y", "type": "quantitative", "axis": {"orient": "left", "values": [0.02,0.03,0.04,0.05,0.06,0.07,0.08,0.09,0.2,0.3,0.4,0.5,0.6,0.7,0.8,0.9], "labels": false, "title": null, "domain": false, "tickSize": 2, "tickWidth": 1}}}}
]},
{"title": {"text": "(l)", "dy": 0}, "width": 177, "height": 120, "resolve": {"axis": {"x": "independent", "y": "independent"}},
"layer": [
{"data": {"name": "fit"}, "transform": [{"filter": "datum.p=='l'"}], "mark": {"type": "line", "color": "#000", "strokeWidth": 1.5, "interpolate": "monotone"},
"encoding": {"x": {"field": "d", "type": "quantitative", "scale": {"domain": [0,12], "nice": false}, "axis": {"values": [0,2,4,6,8,10,12], "title": "Dose (Gy)", "titleFontWeight": "normal", "titleFontSize": 10.5, "labelFontSize": 9.5, "tickSize": 3}},
"y": {"field": "f", "type": "quantitative", "scale": {"type": "log", "domain": [0.01,1.5], "nice": false}, "axis": {"values": [0.01,0.1,1], "format": "~g", "title": "Survival fraction (log)", "titleFontSize": 10, "labelFontSize": 9, "tickSize": 3, "labelPadding": 1, "titlePadding": 1}},
"detail": {"field": "s"}}},
{"data": {"name": "sv"}, "transform": [{"filter": "datum.p=='l'"}], "mark": {"type": "rule", "color": "#000", "strokeWidth": 1.3},
"encoding": {"x": {"field": "d", "type": "quantitative", "axis": {"orient": "top", "title": "KYSE410", "labels": false, "ticks": false, "domain": false, "titleFontSize": 12, "titlePadding": 10}}, "y": {"field": "lo", "type": "quantitative", "axis": null}, "y2": {"field": "hi"}}},
{"data": {"name": "sv"}, "transform": [{"filter": "datum.p=='l'"}], "mark": {"type": "tick", "orient": "horizontal", "color": "#000", "thickness": 1.3, "size": 8},
"encoding": {"x": {"field": "d", "type": "quantitative", "axis": null}, "y": {"field": "lo", "type": "quantitative", "axis": null}}},
{"data": {"name": "sv"}, "transform": [{"filter": "datum.p=='l'"}], "mark": {"type": "tick", "orient": "horizontal", "color": "#000", "thickness": 1.3, "size": 8},
"encoding": {"x": {"field": "d", "type": "quantitative", "axis": null}, "y": {"field": "hi", "type": "quantitative", "axis": null}}},
{"data": {"name": "sv"}, "transform": [{"filter": "datum.p=='l'"}], "mark": {"type": "point", "filled": true, "stroke": "#000", "strokeWidth": 1.3, "size": 40, "opacity": 1},
"encoding": {"x": {"field": "d", "type": "quantitative", "axis": null}, "y": {"field": "m", "type": "quantitative", "axis": null},
"shape": {"field": "s", "type": "nominal", "scale": {"domain": ["RT","RT/POA"], "range": ["diamond","circle"]}, "legend": {"title": null, "orient": "none", "legendX": 170, "legendY": -9, "symbolSize": 40, "rowPadding": 4, "labelOffset": 4, "encode": {"symbols": {"update": {"stroke": {"value": "#000"}, "strokeWidth": {"value": 1.3}}}}}},
"fill": {"field": "s", "type": "nominal", "scale": {"domain": ["RT","RT/POA"], "range": ["#000000","#ffffff"]}, "legend": {"title": null, "orient": "none", "legendX": 170, "legendY": -9, "symbolSize": 40, "rowPadding": 4, "labelOffset": 4, "encode": {"symbols": {"update": {"stroke": {"value": "#000"}, "strokeWidth": {"value": 1.3}}}}}}}},
{"data": {"name": "st"}, "transform": [{"filter": "datum.p=='l'"}], "mark": {"type": "text", "text": "*", "fontSize": 12, "baseline": "middle"},
"encoding": {"x": {"field": "d", "type": "quantitative", "axis": null}, "y": {"field": "y", "type": "quantitative", "axis": {"orient": "left", "values": [0.02,0.03,0.04,0.05,0.06,0.07,0.08,0.09,0.2,0.3,0.4,0.5,0.6,0.7,0.8,0.9], "labels": false, "title": null, "domain": false, "tickSize": 2, "tickWidth": 1}}}}
]}
]
}
